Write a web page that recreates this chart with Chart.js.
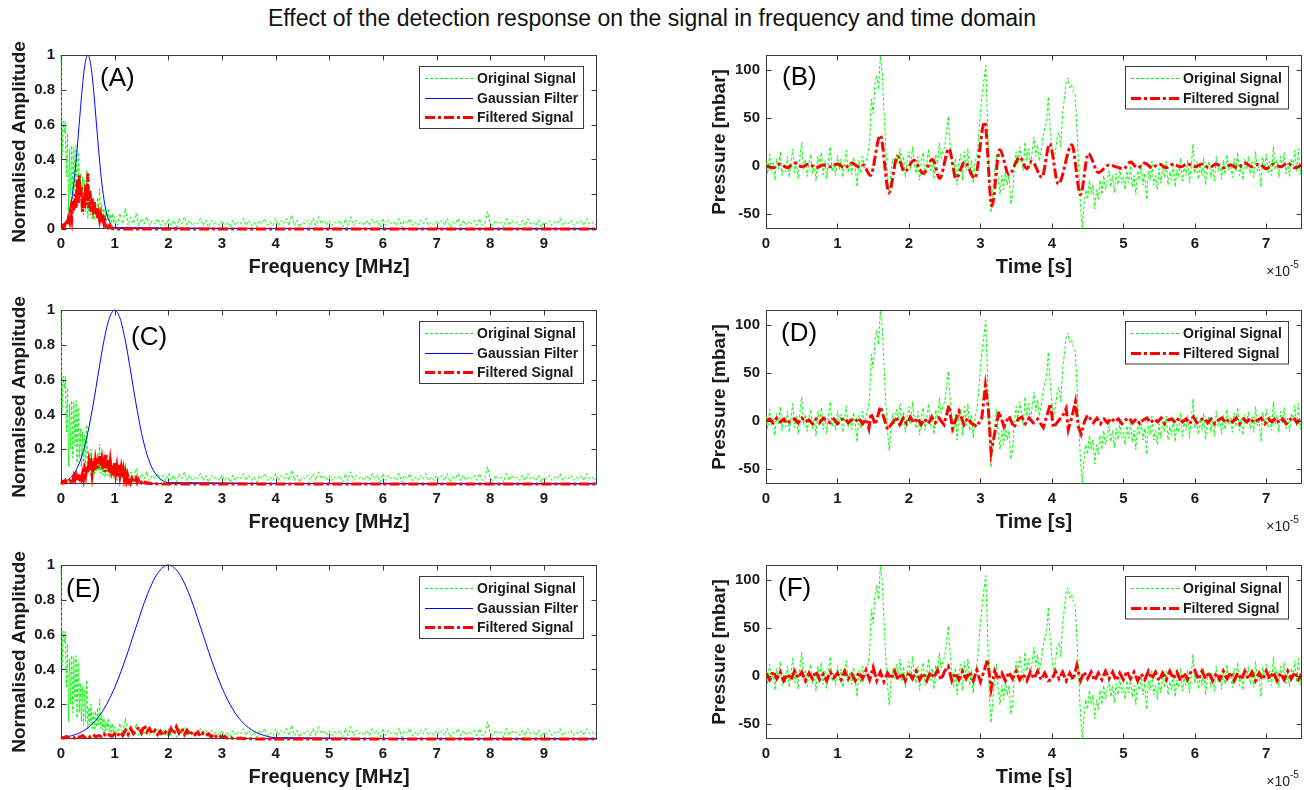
<!DOCTYPE html>
<html>
<head>
<meta charset="utf-8">
<script src="https://cdn.jsdelivr.net/npm/chart.js@4.4.1/dist/chart.umd.min.js"></script>
<style>
html,body{margin:0;padding:0;background:#fff;width:1304px;height:790px;overflow:hidden;}
#title{position:absolute;left:0;top:5px;width:1304px;text-align:center;font:23px "Liberation Sans",Arial,sans-serif;color:#111;line-height:26px;}
canvas{position:absolute;}
</style>
</head>
<body>
<div id="title">Effect of the detection response on the signal in frequency and time domain</div>
<canvas id="cA" width="620" height="250" style="left:0px;top:40px"></canvas>
<canvas id="cB" width="604" height="250" style="left:700px;top:40px"></canvas>
<canvas id="cC" width="620" height="250" style="left:0px;top:295px"></canvas>
<canvas id="cD" width="604" height="250" style="left:700px;top:295px"></canvas>
<canvas id="cE" width="620" height="250" style="left:0px;top:550px"></canvas>
<canvas id="cF" width="604" height="250" style="left:700px;top:550px"></canvas>
<script>
// ---------------- DATA ----------------
// Frequency axis [MHz]
const FREQ_MAX = 9.99;
const freqTicks = [0,1,2,3,4,5,6,7,8,9];
// Original spectrum, 0 .. 1.0 MHz sampled every 0.02 MHz
const SPEC_LOW_STEP = 0.02;
const origSpecLow = [1.0,0.42,0.62,0.55,0.62,0.3,0.55,0.1,0.46,0.2,
  0.48,0.15,0.47,0.22,0.48,0.12,0.44,0.15,0.32,0.1,
  0.3,0.08,0.28,0.1,0.34,0.06,0.18,0.08,0.2,0.06,
  0.15,0.05,0.16,0.07,0.18,0.08,0.23,0.06,0.14,0.05,
  0.12,0.04,0.1,0.05,0.12,0.04,0.08,0.03,0.09,0.03,0.07];
// Original spectrum, 1.05 .. 10 MHz sampled every 0.05 MHz
const SPEC_HIGH_START = 1.05, SPEC_HIGH_STEP = 0.05;
const origSpecHigh = [
  0.02,0.09,0.03,0.12,0.02,0.07,0.03,0.09,0.02,0.06,0.03,0.07,0.02,0.05,0.03,0.06,0.02,0.05,0.02,0.06,
  0.02,0.05,0.01,0.06,0.03,0.07,0.02,0.05,0.02,0.04,0.03,0.06,0.02,0.05,0.01,0.05,0.03,0.04,0.02,0.05,
  0.02,0.04,0.01,0.05,0.02,0.04,0.03,0.06,0.02,0.05,0.02,0.04,0.01,0.05,0.03,0.06,0.02,0.04,0.02,0.06,
  0.02,0.05,0.03,0.06,0.02,0.08,0.02,0.05,0.01,0.04,0.03,0.05,0.02,0.06,0.02,0.07,0.03,0.05,0.02,0.05,
  0.02,0.04,0.03,0.05,0.01,0.06,0.02,0.07,0.02,0.05,0.03,0.04,0.02,0.05,0.02,0.06,0.03,0.05,0.01,0.06,
  0.02,0.05,0.03,0.04,0.02,0.06,0.01,0.05,0.03,0.06,0.02,0.04,0.02,0.05,0.03,0.06,0.02,0.04,0.02,0.05,
  0.03,0.05,0.02,0.06,0.01,0.04,0.03,0.06,0.02,0.05,0.02,0.04,0.03,0.05,0.02,0.06,0.02,0.03,0.10,0.03,
  0.02,0.05,0.03,0.04,0.01,0.06,0.02,0.05,0.03,0.04,0.02,0.05,0.02,0.06,0.03,0.04,0.02,0.05,0.01,0.04,
  0.03,0.05,0.02,0.04,0.03,0.06,0.02,0.04,0.03,0.05,0.02,0.04,0.03,0.05,0.02,0.06,0.03,0.04,0.02,0.04];
// Gaussian filter response (21 samples across each filter), per panel centre / sample spacing
const gaussianFilter = [0.008,0.019,0.044,0.091,0.172,0.295,0.458,0.644,0.823,0.952,1,
  0.952,0.823,0.644,0.458,0.295,0.172,0.091,0.044,0.019,0.008];
const gaussCentre = {A:0.5, C:1.0, E:2.0};
const gaussSpacing = {A:0.05, C:0.1, E:0.2};
// Filtered spectra
const filtSpecStep = {A:0.02, C:0.02, E:0.05};
const filtSpecA = [0.01,0.01,0.02,0.01,0.03,0.05,0.02,0.06,0.04,0.1,
  0.06,0.16,0.1,0.2,0.12,0.28,0.15,0.31,0.18,0.24,
  0.1,0.2,0.12,0.26,0.14,0.32,0.12,0.22,0.1,0.18,
  0.12,0.16,0.08,0.12,0.06,0.09,0.05,0.08,0.04,0.06,
  0.03,0.05,0.02,0.03,0.01,0.02,0.01,0.005,0.003,0.001,0];
const filtSpecC = [0.01,0.005,0.015,0.01,0.02,0.01,0.015,0.01,0.02,0.015,
  0.03,0.02,0.045,0.025,0.05,0.02,0.04,0.03,0.055,0.03,
  0.06,0.03,0.08,0.05,0.1,0.06,0.12,0.07,0.11,0.05,
  0.1,0.07,0.13,0.08,0.15,0.09,0.16,0.1,0.14,0.08,
  0.12,0.07,0.17,0.09,0.14,0.06,0.13,0.08,0.11,0.05,
  0.12,0.06,0.1,0.04,0.11,0.05,0.09,0.04,0.08,0.03,
  0.06,0.02,0.05,0.02,0.04,0.01,0.03,0.015,0.03,0.01,
  0.03,0.01,0.025,0.01,0.02,0.008,0.015,0.005,0.01,0.004,
  0.008,0.003,0.006,0.002,0.004,0.002,0.003,0.001,0.002,0.001,0];
const filtSpecE = [0.01,0.005,0.015,0.008,0.012,0.006,0.018,0.01,0.02,0.008,
  0.02,0.01,0.025,0.012,0.02,0.015,0.03,0.012,0.025,0.015,
  0.03,0.015,0.04,0.02,0.05,0.025,0.06,0.03,0.045,0.07,
  0.035,0.08,0.04,0.06,0.03,0.05,0.025,0.045,0.02,0.04,
  0.025,0.06,0.03,0.07,0.035,0.06,0.025,0.05,0.02,0.045,
  0.025,0.04,0.015,0.035,0.02,0.03,0.012,0.03,0.01,0.02,
  0.008,0.015,0.005,0.01,0.004,0.008,0.003,0.005,0.002,0.003,
  0.001,0.001,0];

// Time axis, in units of 1e-5 s
const TIME_MAX = 7.5;
const timeTicks = [0,1,2,3,4,5,6,7];
const TIME_STEP = 0.025;
// Original pressure signal [mbar], 0 .. 7.5 sampled every 0.025
const origTime = [
  5,-8,12,-5,3,-15,8,-3,15,-10,2,-6,10,-12,4,18,-7,6,-14,9,
  25,-4,7,-11,3,12,-8,1,-16,10,-2,14,-9,5,-13,8,20,-6,3,-10,
  11,-4,7,-12,2,16,-7,4,-9,9,-3,-22,6,-8,10,-2,5,12,25,70,
  55,85,95,80,115,100,60,20,-10,-31,-5,8,-3,12,2,18,-6,10,-12,5,
  15,-4,20,2,-8,10,-15,6,14,-10,3,18,-5,8,-14,12,2,24,8,15,
  20,35,52,25,5,-12,8,-20,4,12,-15,15,-5,18,-10,6,-18,5,10,30,
  55,75,90,105,45,-20,-49,-25,-5,12,-15,-30,-10,-25,-5,-20,-10,-40,-30,0,
  15,2,20,8,-5,25,5,18,0,15,30,10,22,5,15,30,40,45,72,40,
  20,5,15,30,35,20,55,70,88,92,82,85,78,75,40,0,-40,-66,-40,-25,
  -35,-15,-30,-20,-45,-25,-35,-15,-30,-10,-25,-15,-5,-22,-10,-28,-8,-20,-2,-18,
  -12,-25,-5,-18,0,-22,-10,-30,-5,-15,2,-20,-8,-35,-5,-15,5,-20,-10,-25,
  -3,-18,0,-12,5,-20,-6,-15,3,-22,-4,-12,8,-16,-2,-10,6,-18,0,23,
  -8,4,-14,2,-10,8,-20,-3,5,-12,0,-16,10,-6,2,-14,6,-9,12,-4,
  3,-12,8,-6,14,-10,2,-15,7,-3,10,-8,4,-12,15,-5,0,-22,9,-2,
  12,-7,5,-10,20,-4,6,-12,10,-3,14,-8,3,-11,8,0,16,-6,18,-9,
  5];
// Filtered signal (B), turning points [time, mbar]
const filtTimeB = [[0,0],[0.1,-2],[0.2,2],[0.3,-2],[0.4,3],[0.5,-1],[0.6,2],[0.7,-2],[0.8,1],[0.9,-1],
  [1.0,2],[1.1,-2],[1.2,3],[1.3,-1],[1.36,1],[1.46,-10],[1.6,32],[1.72,-28],[1.84,10],[1.94,-6],
  [2.07,6],[2.2,-8],[2.33,7],[2.43,-13],[2.56,18],[2.66,-13],[2.78,4],[2.92,-13],[3.06,46],[3.16,-42],
  [3.27,17],[3.4,-9],[3.55,9],[3.65,-3],[3.72,5],[3.86,-12],[3.97,23],[4.09,-19],[4.28,22],[4.4,-30],
  [4.51,13],[4.65,-7],[4.8,1],[4.9,-1],[5.0,-3],[5.1,4],[5.2,-2],[5.3,3],[5.4,-2],[5.5,2],
  [5.6,-2],[5.7,2],[5.8,-1],[5.9,2],[6.0,-1],[6.1,2],[6.2,-2],[6.3,2],[6.4,-2],[6.5,1],
  [6.6,-2],[6.7,3],[6.8,-1],[6.9,2],[7.0,-3],[7.1,2],[7.2,-1],[7.3,3],[7.4,-2],[7.5,1]];
// Filtered signal (D), turning points [time, mbar]
const filtTimeD = [[0,0],[0.05,2],[0.1,-2],[0.15,3],[0.2,-1],[0.25,2],[0.3,-3],[0.35,1],[0.4,2],[0.45,-2],
  [0.5,3],[0.55,-1],[0.6,1],[0.65,-3],[0.7,2],[0.75,-2],[0.8,3],[0.85,0],[0.9,-2],[0.95,2],
  [1.0,-3],[1.05,1],[1.1,3],[1.15,-2],[1.2,1],[1.25,-1],[1.3,3],[1.35,-3],[1.4,2],[1.44,-8],
  [1.47,8],[1.53,-4],[1.6,15],[1.66,1],[1.7,-9],[1.77,-2],[1.82,4],[1.87,-4],[1.92,3],[1.97,-3],
  [2.02,4],[2.07,-2],[2.12,3],[2.17,-4],[2.22,2],[2.27,-3],[2.32,4],[2.37,-2],[2.42,3],[2.49,-4],
  [2.56,16],[2.61,-8],[2.7,10],[2.77,-4],[2.82,3],[2.87,-2],[2.95,-6],[3.02,3],[3.07,37],[3.11,14],
  [3.15,-33],[3.2,-13],[3.26,10],[3.33,-6],[3.4,5],[3.47,-7],[3.53,2],[3.58,4],[3.63,-3],[3.68,3],
  [3.74,-2],[3.8,2],[3.88,-7],[3.98,18],[4.02,-7],[4.09,0],[4.15,5],[4.2,13],[4.23,-9],[4.28,4],
  [4.33,20],[4.37,-6],[4.41,-14],[4.46,0],[4.5,6],[4.58,-2],[4.63,3],[4.68,-3],[4.73,2],[4.78,-2],
  [4.83,3],[4.88,-1],[4.93,2],[4.98,-3],[5.03,1],[5.08,3],[5.13,-2],[5.18,2],[5.23,-3],[5.28,1],
  [5.33,3],[5.38,-2],[5.43,2],[5.48,-1],[5.53,3],[5.58,-3],[5.63,1],[5.68,2],[5.73,-2],[5.78,3],
  [5.83,-1],[5.88,2],[5.93,-3],[5.98,4],[6.03,-2],[6.08,1],[6.13,3],[6.18,-2],[6.23,2],[6.28,-3],
  [6.33,1],[6.38,3],[6.43,-2],[6.48,2],[6.53,-1],[6.58,3],[6.63,-3],[6.68,2],[6.73,-1],[6.78,3],
  [6.83,-2],[6.88,1],[6.93,3],[6.98,-3],[7.03,2],[7.08,-1],[7.13,3],[7.18,-2],[7.23,2],[7.28,-3],
  [7.33,1],[7.38,4],[7.43,-2],[7.48,2],[7.5,0]];
// Filtered signal (F), sampled every 0.05
const F_STEP = 0.05;
const filtTimeF = [
  3,-4,5,-3,4,-5,2,-4,5,-2,
  4,-5,3,-3,5,-4,2,-5,4,-2,
  3,-4,5,-3,2,-5,4,-3,6,-4,
  9,-5,4,-6,3,-3,5,-4,3,-5,
  4,-3,5,-4,3,-5,4,-2,6,-4,
  5,10,-5,3,-4,5,-3,4,-5,6,
  -6,5,17,-14,5,-4,3,-5,4,-3,
  5,-4,2,-5,4,-3,5,-4,3,-5,
  -4,5,-3,4,-5,3,-4,11,-5,4,
  -3,4,-5,3,-4,5,-3,4,-5,3,
  -4,5,-3,4,-5,2,-4,5,-3,4,
  -5,3,-4,5,-3,4,-5,3,-4,5,
  6,-4,5,-3,4,-5,3,-4,5,-3,
  4,-5,3,-4,5,-3,4,-5,3,-4,
  5,-3,4,-5,3,-4,5,-3,4,-4,
  2];
const pressureRange = [-66, 116];
const pressureTicks = [-50, 0, 50, 100];

// ---------------- STYLES ----------------
const FONT = '"Liberation Sans", Arial, Helvetica, sans-serif';
const TEXT = '#1a1a1a';
const AXIS = '#3a3a3a';
const GREEN = '#00ff00', BLUE = '#0000ff', RED = '#ff0000';
const GREEN_DASH = [3, 2], RED_DASH = [10, 3, 3, 3];

const pts = (vals, x0, step) => vals.map((v, i) => ({x: x0 + i * step, y: v}));
const pairPts = arr => arr.map(([x, y]) => ({x, y}));

// per-canvas decorations (kept outside Chart.js option resolution)
const extras = {};

const matlabPlugin = {
  id: 'matlab',
  beforeDatasetsDraw(chart) {
    const {ctx, chartArea: a} = chart;
    ctx.save();
    ctx.setLineDash([]);
    ctx.strokeStyle = AXIS;
    ctx.lineWidth = 1;
    const L = Math.round(a.left) + 0.5, R = Math.round(a.right) - 0.5;
    const T = Math.round(a.top) + 0.5, B = Math.round(a.bottom) - 0.5;
    ctx.strokeRect(L, T, R - L, B - T);
    ctx.restore();
  },
  afterDatasetsDraw(chart) {
    const o = extras[chart.canvas.id];
    const {ctx, chartArea: a, scales: {x, y}} = chart;
    ctx.save();
    ctx.setLineDash([]);
    ctx.strokeStyle = AXIS;
    ctx.lineWidth = 1;
    const L = Math.round(a.left) + 0.5, R = Math.round(a.right) - 0.5;
    const T = Math.round(a.top) + 0.5, B = Math.round(a.bottom) - 0.5;
    // top & right box edges and the bottom edge over the data
    ctx.beginPath();
    ctx.moveTo(L, T); ctx.lineTo(R, T); ctx.lineTo(R, B);
    ctx.stroke();
    const TL = 5;
    ctx.beginPath();
    x.ticks.forEach(t => {
      const px = Math.round(x.getPixelForValue(t.value)) + 0.5;
      ctx.moveTo(px, B); ctx.lineTo(px, B - TL);
      ctx.moveTo(px, T); ctx.lineTo(px, T + TL);
    });
    y.ticks.forEach(t => {
      const py = Math.round(y.getPixelForValue(t.value)) + 0.5;
      ctx.moveTo(L, py); ctx.lineTo(L + TL, py);
      ctx.moveTo(R, py); ctx.lineTo(R - TL, py);
    });
    ctx.stroke();
    // legend
    const items = o.legend;
    const w = o.legendW, h = 23 + (items.length - 1) * 19.5;
    const bx = Math.round(a.right - 14 - w), by = Math.round(a.top + 11);
    ctx.fillStyle = '#ffffff';
    ctx.fillRect(bx, by, w, h);
    ctx.strokeStyle = AXIS;
    ctx.lineWidth = 1;
    ctx.strokeRect(bx + 0.5, by + 0.5, w, h);
    items.forEach((it, i) => {
      const cy = Math.round(by + 12 + i * 19.5) + 0.5;
      ctx.beginPath();
      ctx.setLineDash(it.dash.slice());
      ctx.strokeStyle = it.color;
      ctx.lineWidth = it.width;
      ctx.moveTo(bx + 6, cy); ctx.lineTo(bx + 54, cy);
      ctx.stroke();
      ctx.setLineDash([]);
      ctx.fillStyle = TEXT;
      ctx.font = 'bold 14px ' + FONT;
      ctx.textAlign = 'left';
      ctx.textBaseline = 'middle';
      ctx.fillText(it.text, bx + 58, cy + 1);
    });
    // panel letter
    ctx.fillStyle = '#000';
    ctx.font = '26px ' + FONT;
    ctx.textAlign = 'left';
    ctx.textBaseline = 'middle';
    ctx.fillText(o.label, a.left + o.labelDx, a.top + o.labelDy);
    // exponent
    if (o.exponent) {
      ctx.fillStyle = TEXT;
      ctx.font = '14px ' + FONT;
      ctx.textAlign = 'right';
      ctx.fillText('\u00d710', a.right - 12, a.bottom + 43);
      ctx.font = '10px ' + FONT;
      ctx.textAlign = 'left';
      ctx.fillText('-5', a.right - 12, a.bottom + 36);
    }
    ctx.restore();
  }
};

function makeChart(id, datasets, cfg) {
  extras[id] = cfg.deco;
  const tickFont = {family: FONT, size: 15, weight: 'bold'};
  return new Chart(document.getElementById(id), {
    type: 'line',
    data: {datasets},
    plugins: [matlabPlugin],
    options: {
      responsive: false,
      animation: false,
      events: [],
      layout: {padding: {top: 12, right: cfg.padRight, bottom: 0, left: 0}},
      elements: {point: {radius: 0}},
      plugins: {legend: {display: false}, tooltip: {enabled: false}},
      scales: {
        x: {
          type: 'linear', min: cfg.xRange[0], max: cfg.xRange[1],
          grid: {display: false, drawTicks: false}, border: {display: false},
          afterBuildTicks: s => { s.ticks = cfg.xTicks.map(v => ({value: v})); },
          ticks: {padding: 6, color: TEXT, font: tickFont, maxRotation: 0, autoSkip: false,
                  callback: v => String(v)},
          title: {display: true, text: cfg.xTitle, color: TEXT,
                  font: {family: FONT, size: 20, weight: 'bold'}, padding: {top: 0, bottom: 11}},
          afterFit: s => { s.height = 61; }
        },
        y: {
          type: 'linear', min: cfg.yRange[0], max: cfg.yRange[1],
          grid: {display: false, drawTicks: false}, border: {display: false},
          afterBuildTicks: s => { s.ticks = cfg.yTicks.map(v => ({value: v})); },
          ticks: {padding: 6, color: TEXT, font: tickFont, autoSkip: false,
                  callback: v => String(v)},
          title: {display: true, text: cfg.yTitle, color: TEXT,
                  font: {family: FONT, size: 19, weight: 'bold'}, padding: {top: 8, bottom: 0}},
          afterFit: s => { s.width = cfg.yWidth; }
        }
      }
    }
  });
}

const specLegend = [
  {text: 'Original Signal', color: GREEN, width: 1, dash: GREEN_DASH},
  {text: 'Gaussian Filter', color: BLUE, width: 1, dash: []},
  {text: 'Filtered Signal', color: RED, width: 3, dash: RED_DASH}
];
const timeLegend = [
  {text: 'Original Signal', color: GREEN, width: 1, dash: GREEN_DASH},
  {text: 'Filtered Signal', color: RED, width: 3, dash: RED_DASH}
];

function spectrumPanel(id, key, filtVals, label, dx, dy, yTicks) {
  const orig = pts(origSpecLow, 0, SPEC_LOW_STEP).concat(pts(origSpecHigh, SPEC_HIGH_START, SPEC_HIGH_STEP));
  const g0 = gaussCentre[key] - 10 * gaussSpacing[key];
  const gauss = pts(gaussianFilter, g0, gaussSpacing[key]).concat([{x: FREQ_MAX, y: 0}]);
  const filt = pts(filtVals, 0, filtSpecStep[key]).concat([{x: FREQ_MAX, y: 0}]);
  makeChart(id, [
    {data: filt, borderColor: RED, borderWidth: 3, borderDash: RED_DASH, tension: 0, clip: 3},
    {data: gauss, borderColor: BLUE, borderWidth: 1, cubicInterpolationMode: 'monotone', clip: 2},
    {data: orig, borderColor: GREEN, borderWidth: 1, borderDash: GREEN_DASH, tension: 0, clip: 2}
  ], {
    padRight: 23, yWidth: 61,
    xRange: [0, FREQ_MAX], xTicks: freqTicks, yRange: [0, 1], yTicks,
    xTitle: 'Frequency [MHz]', yTitle: 'Normalised Amplitude',
    deco: {legend: specLegend, legendW: 164, label, labelDx: dx, labelDy: dy, exponent: false}
  });
}

function timePanel(id, filtData, smooth, label, dx, dy) {
  const orig = pts(origTime, 0, TIME_STEP);
  makeChart(id, [
    {data: filtData, borderColor: RED, borderWidth: 3, borderDash: RED_DASH,
     cubicInterpolationMode: smooth ? 'monotone' : 'default', tension: smooth ? 0.4 : 0},
    {data: orig, borderColor: GREEN, borderWidth: 1, borderDash: GREEN_DASH, tension: 0}
  ], {
    padRight: 2, yWidth: 66,
    xRange: [0, TIME_MAX], xTicks: timeTicks, yRange: pressureRange, yTicks: pressureTicks,
    xTitle: 'Time [s]', yTitle: 'Pressure [mbar]',
    deco: {legend: timeLegend, legendW: 163, label, labelDx: dx, labelDy: dy, exponent: true}
  });
}

spectrumPanel('cA', 'A', filtSpecA, '(A)', 39, 24, [0, 0.2, 0.4, 0.6, 0.8, 1]);
spectrumPanel('cC', 'C', filtSpecC, '(C)', 70, 28, [0.2, 0.4, 0.6, 0.8, 1]);
spectrumPanel('cE', 'E', filtSpecE, '(E)', 5, 25, [0.2, 0.4, 0.6, 0.8, 1]);
timePanel('cB', pairPts(filtTimeB), true, '(B)', 16, 23);
timePanel('cD', pairPts(filtTimeD), false, '(D)', 15, 24);
timePanel('cF', pts(filtTimeF, 0, F_STEP), false, '(F)', 12, 24);
</script>
</body>
</html>
